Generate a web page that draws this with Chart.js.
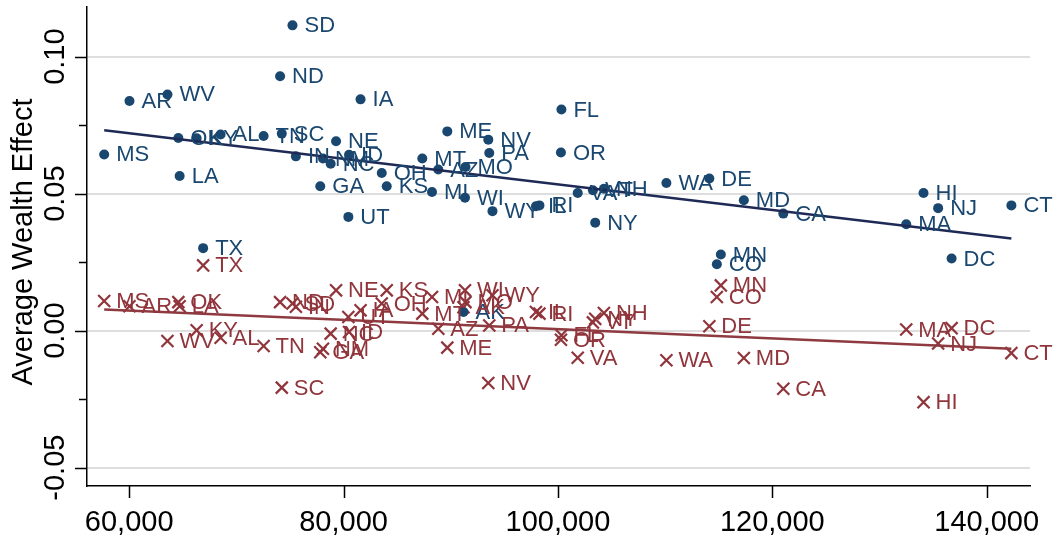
<!DOCTYPE html>
<html>
<head>
<meta charset="utf-8">
<script src="https://cdn.jsdelivr.net/npm/chart.js@4.4.1/dist/chart.umd.min.js"></script>
<style>
  html, body { margin: 0; padding: 0; background: #fff; }
  canvas { display: block; }
</style>
</head>
<body>
<canvas id="wealthChart" width="1060" height="537"></canvas>
<script>
// state, median income, average wealth effect (two series)
const states = ['MS','AR','WV','OK','LA','KY','TX','AL','TN','ND','SC','SD','IN','GA','NM','NC','NE','UT','ID','IA',
  'OH','KS','MT','MI','AZ','ME','AK','MO','WI','NV','PA','WY','IL','RI','OR','FL','VA','VT','NY','NH',
  'WA','DE','CO','MN','MD','CA','MA','HI','NJ','DC','CT'];
const income = [57669,60028,63571,64587,64709,66294,66900,68531,72541,74079,74238,75235,75552,77827,78079,78797,79301,80448,80513,81585,
  83562,84028,87347,88252,88839,89678,91189,91375,91329,93501,93594,93893,97949,98275,100280,100326,101846,103263,103478,104289,
  110117,114126,114825,115198,117343,121026,132494,134107,135469,136727,142303];
const effectBlue = [0.0643,0.0838,0.0862,0.0703,0.0564,0.0702,0.0301,0.0716,0.0710,0.0928,0.0719,0.1114,0.0636,0.0527,0.0628,0.0609,0.0691,0.0415,0.0642,0.0844,
  0.0575,0.0527,0.0628,0.0506,0.0588,0.0727,0.0068,0.0597,0.0485,0.0697,0.0648,0.0436,0.0454,0.0457,0.0650,0.0807,0.0502,0.0512,0.0394,0.0518,
  0.0539,0.0555,0.0242,0.0278,0.0476,0.0427,0.0388,0.0502,0.0447,0.0263,0.0457];
const effectRed = [0.0108,0.0089,-0.0038,0.0104,0.0089,0.0001,0.0238,-0.0026,-0.0056,0.0104,-0.0208,0.0099,0.0087,-0.0079,-0.0066,-0.0011,0.0147,0.0050,-0.0005,0.0074,
  0.0099,0.0147,0.0062,0.0123,0.0007,-0.0062,0.0085,0.0104,0.0147,-0.0191,0.0019,0.0129,0.0068,0.0062,-0.0033,-0.0017,-0.0099,0.0030,0.0043,0.0064,
  -0.0108,0.0016,0.0123,0.0165,-0.0100,-0.0212,0.0004,-0.0261,-0.0047,0.0009,-0.0082];

// fitted lines
const fitX = [57669, 142303];
const fitBlue = [0.0731, 0.0336];
const fitRed = [0.0077, -0.0066];

// axes
const xTicks = [60000, 80000, 100000, 120000, 140000];
const xTickLabels = ['60,000', '80,000', '100,000', '120,000', '140,000'];
const yTicks = [-0.05, -0.025, 0, 0.025, 0.05, 0.075, 0.1];
const yLabelTicks = [-0.05, 0, 0.05, 0.1];
const yTickLabels = ['-0.05', '0.00', '0.05', '0.10'];

const blue = '#1a476f';
const red = '#90353b';
const font = '"Liberation Sans", Arial, sans-serif';

function points(ys) {
    return income.map((x, i) => ({ x: x, y: ys[i] }));
}

function isMajor(v) {
    return yLabelTicks.some(t => Math.abs(t - v) < 1e-9);
}

const labelPlugin = {
    id: 'labels',
    afterDatasetsDraw(chart) {
        const ctx = chart.ctx;
        ctx.save();
        ctx.font = '22px ' + font;
        ctx.textBaseline = 'middle';
        ctx.textAlign = 'left';
        [0, 1].forEach(function(di) {
            const meta = chart.getDatasetMeta(di);
            ctx.fillStyle = chart.data.datasets[di].borderColor;
            meta.data.forEach(function(el, i) {
                ctx.fillText(states[i], el.x + 12, el.y + 1);
            });
        });
        ctx.restore();
    },
    afterDraw(chart) {
        const ctx = chart.ctx;
        const xs = chart.scales.x;
        const ys = chart.scales.y;
        const area = chart.chartArea;
        ctx.save();
        ctx.strokeStyle = '#000';
        ctx.lineWidth = 1.5;
        ctx.beginPath();
        yTicks.forEach(function(v) {
            const py = Math.round(ys.getPixelForValue(v)) + 0.5;
            const len = isMajor(v) ? 12 : 8;
            ctx.moveTo(area.left, py);
            ctx.lineTo(area.left - len, py);
        });
        xTicks.forEach(function(v) {
            const px = Math.round(xs.getPixelForValue(v)) + 0.5;
            ctx.moveTo(px, area.bottom);
            ctx.lineTo(px, area.bottom + 12);
        });
        ctx.stroke();

        ctx.fillStyle = '#000';
        ctx.font = '29px ' + font;
        ctx.textAlign = 'center';
        ctx.textBaseline = 'alphabetic';
        xTicks.forEach(function(v, i) {
            ctx.fillText(xTickLabels[i], xs.getPixelForValue(v), 531);
        });
        yLabelTicks.forEach(function(v, i) {
            ctx.save();
            ctx.translate(64, ys.getPixelForValue(v));
            ctx.rotate(-Math.PI / 2);
            ctx.fillText(yTickLabels[i], 0, 0);
            ctx.restore();
        });
        ctx.save();
        ctx.translate(32, 242);
        ctx.rotate(-Math.PI / 2);
        ctx.fillText('Average Wealth Effect', 0, 0);
        ctx.restore();
        ctx.restore();
    }
};

const ctx = document.getElementById('wealthChart').getContext('2d');
new Chart(ctx, {
    type: 'scatter',
    data: {
        datasets: [{
            data: points(effectBlue),
            borderColor: blue,
            backgroundColor: blue,
            pointStyle: 'circle',
            pointRadius: 5,
            borderWidth: 0,
            order: 3
        }, {
            data: points(effectRed),
            borderColor: red,
            backgroundColor: red,
            pointStyle: 'crossRot',
            pointRadius: 8.5,
            pointBorderWidth: 2.2,
            order: 4
        }, {
            data: fitX.map((x, i) => ({ x: x, y: fitBlue[i] })),
            showLine: true,
            borderColor: '#1e2a55',
            borderWidth: 2.5,
            pointRadius: 0,
            order: 1
        }, {
            data: fitX.map((x, i) => ({ x: x, y: fitRed[i] })),
            showLine: true,
            borderColor: '#8e3a40',
            borderWidth: 2.5,
            pointRadius: 0,
            order: 2
        }]
    },
    options: {
        responsive: false,
        animation: false,
        devicePixelRatio: 1,
        layout: { autoPadding: false, padding: { left: 0, right: 30, top: 7, bottom: 0 } },
        plugins: {
            legend: { display: false },
            tooltip: { enabled: false },
            title: { display: false }
        },
        scales: {
            x: {
                type: 'linear',
                min: 56065,
                max: 144040,
                afterFit: function(scale) { scale.height = 51; },
                ticks: { display: false },
                grid: { display: false, drawTicks: false },
                border: { display: true, color: '#000', width: 1.5 }
            },
            y: {
                type: 'linear',
                min: -0.0567,
                max: 0.1181,
                afterFit: function(scale) { scale.width = 87; },
                afterBuildTicks: function(scale) {
                    scale.ticks = yTicks.map(v => ({ value: v }));
                },
                ticks: { display: false },
                grid: {
                    drawTicks: false,
                    lineWidth: 2,
                    color: function(c) {
                        return c.tick && isMajor(c.tick.value) ? '#dedede' : 'rgba(0,0,0,0)';
                    }
                },
                border: { display: true, color: '#000', width: 1.5 }
            }
        }
    },
    plugins: [labelPlugin]
});
</script>
</body>
</html>
